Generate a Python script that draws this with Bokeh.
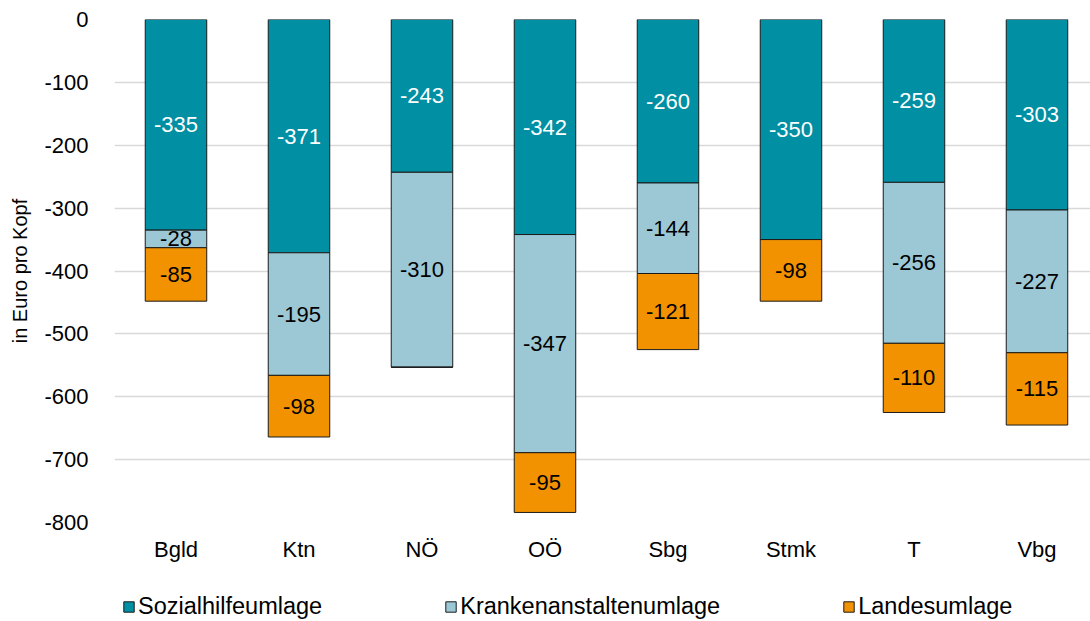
from bokeh.plotting import figure
from bokeh.models import ColumnDataSource, FixedTicker, Legend, LegendItem, LabelSet
from bokeh.layouts import column
from bokeh.core.properties import value
from bokeh.embed import file_html
from bokeh.resources import INLINE

categories = ["Bgld", "Ktn", "NÖ", "OÖ", "Sbg", "Stmk", "T", "Vbg"]
sozialhilfe = [-335, -371, -243, -342, -260, -350, -259, -303]
kranken = [-28, -195, -310, -347, -144, 0, -256, -227]
landes = [-85, -98, 0, -95, -121, -98, -110, -115]
series_names = ["Sozialhilfeumlage", "Krankenanstaltenumlage", "Landesumlage"]
y_ticks = [0, -100, -200, -300, -400, -500, -600, -700, -800]

colors = ["#008FA3", "#9CC8D5", "#F39200"]
text_colors = ["white", "black", "black"]
FONT = "Liberation Sans"

p = figure(width=1090, height=575,
           x_range=(-0.5, 7.435), y_range=(-800, 0),
           output_backend="svg", toolbar_location=None,
           min_border_left=114, min_border_top=19, min_border_right=0, min_border_bottom=53)

# legend strip (separate figure below the chart)
q = figure(width=1090, height=46, x_range=(0, 1), y_range=(0, 1),
           output_backend="svg", toolbar_location=None,
           x_axis_location=None, y_axis_location=None,
           min_border_left=0, min_border_right=0, min_border_top=0, min_border_bottom=0)
q.xgrid.grid_line_color = None
q.ygrid.grid_line_color = None
q.outline_line_color = None

xs = list(range(len(categories)))
bottom = [0.0] * len(categories)
items = []
for vals, col, tcol, name in zip([sozialhilfe, kranken, landes], colors, text_colors, series_names):
    top = bottom
    bot = [t + v for t, v in zip(top, vals)]
    src = ColumnDataSource(dict(x=xs, top=top, bottom=bot,
                                mid=[(t + b) / 2 for t, b in zip(top, bot)],
                                lab=[str(v) if v != 0 else "" for v in vals]))
    p.vbar(x="x", top="top", bottom="bottom", width=0.5, source=src,
           fill_color=col, line_color="#1a1a1a", line_width=1)
    p.add_layout(LabelSet(x="x", y="mid", text="lab", source=src,
                          text_align="center", text_baseline="middle",
                          text_color=tcol, text_font=value(FONT), text_font_size="22px"))
    # same bars in the legend strip (outside its visible range), used only for the legend swatch
    r = q.vbar(x="x", top="top", bottom="bottom", width=0.5, source=src,
               fill_color=col, line_color="#1a1a1a", line_width=1)
    items.append(LegendItem(label=name, renderers=[r]))
    bottom = bot

p.xaxis.ticker = FixedTicker(ticks=xs)
p.xaxis.major_label_overrides = {i: c for i, c in enumerate(categories)}
p.yaxis.ticker = FixedTicker(ticks=y_ticks)
p.yaxis.major_label_overrides = {v: str(v) for v in y_ticks}
for ax in (p.xaxis[0], p.yaxis[0]):
    ax.axis_line_color = None
    ax.major_tick_line_color = None
    ax.minor_tick_line_color = None
    ax.major_label_text_font = FONT
    ax.major_label_text_font_size = "22px"
    ax.major_label_text_color = "black"
p.xaxis.major_label_standoff = 8
p.yaxis.major_label_standoff = 20
p.yaxis.axis_label = "in Euro pro Kopf"
p.yaxis.axis_label_text_font = FONT
p.yaxis.axis_label_text_font_size = "20px"
p.yaxis.axis_label_text_font_style = "normal"
p.yaxis.axis_label_text_color = "black"
p.yaxis.axis_label_standoff = 10
p.xgrid.grid_line_color = None
p.ygrid.grid_line_color = "#d9d9d9"
p.ygrid.grid_line_width = 1.5
p.outline_line_color = None

legend = Legend(items=items, orientation="horizontal", location=(8, 1),
                label_text_font=FONT, label_text_font_size="23.5px",
                label_text_color="black",
                glyph_width=13, glyph_height=13, label_standoff=3,
                spacing=122, padding=0, margin=0, border_line_color=None,
                background_fill_alpha=0)
q.add_layout(legend, "center")

open("out.html", "w").write(file_html(column(p, q, spacing=0), INLINE))
